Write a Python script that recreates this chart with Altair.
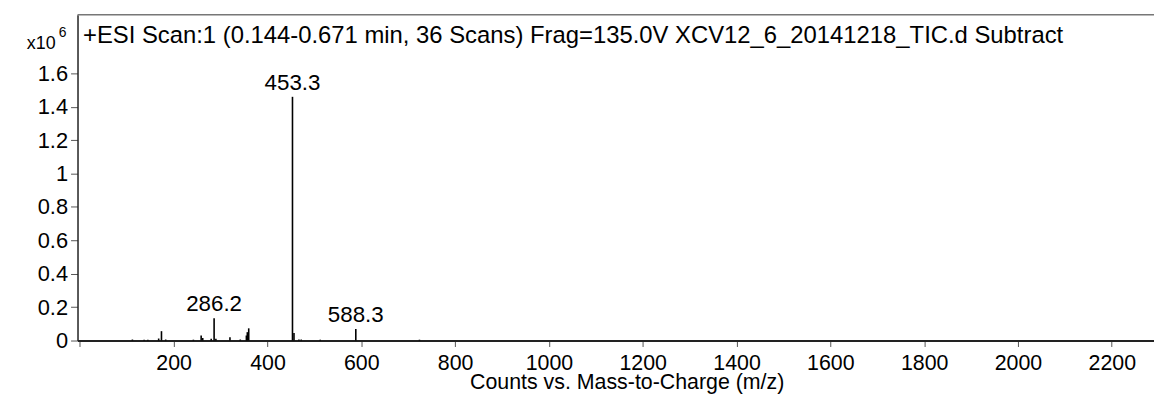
import altair as alt
import pandas as pd

FONT = "Liberation Sans"

# peak list (m/z, intensity in units of 10^6 counts)
mz = [112, 137, 145, 168, 174, 183, 242, 258.6, 262, 280, 286.2, 290, 320, 342,
      355, 357, 360, 453.3, 456.5, 467, 472, 512.5, 588.3, 724]
intensity = [0.006, 0.005, 0.005, 0.012, 0.056, 0.006, 0.005, 0.03, 0.015, 0.01,
             0.133, 0.01, 0.02, 0.006, 0.03, 0.05, 0.073, 1.459, 0.045, 0.006,
             0.006, 0.005, 0.069, 0.005]

label_mz = [286.2, 453.3, 588.3]
label_int = [0.133, 1.459, 0.069]
label_text = ["286.2", "453.3", "588.3"]

x_ticks = [0, 200, 400, 600, 800, 1000, 1200, 1400, 1600, 1800, 2000, 2200]
y_ticks = [0, 0.2, 0.4, 0.6, 0.8, 1.0, 1.2, 1.4, 1.6]

title_text = "+ESI Scan:1 (0.144-0.671 min, 36 Scans) Frag=135.0V XCV12_6_20141218_TIC.d  Subtract"

W, H = 1084, 328

peaks = pd.DataFrame({"mz": mz, "intensity": intensity})
labels = pd.DataFrame({"mz": label_mz, "intensity": label_int, "label": label_text})

xscale = alt.Scale(domain=[-5, 2290], nice=False, zero=False)
yscale = alt.Scale(domain=[0, 1.95], nice=False)

xaxis = alt.Axis(values=x_ticks, format="d",
                 labelExpr="datum.value == 0 ? '' : datum.label",
                 title="Counts vs. Mass-to-Charge (m/z)",
                 titleX=553, titleY=48, titleBaseline="alphabetic", titleAlign="center",
                 titleFontSize=21.5, titleFontWeight="normal", titleFont=FONT, titleColor="black",
                 labelFontSize=21.5, labelFont=FONT, labelColor="black", labelPadding=6,
                 tickSize=6, tickColor="#555", domainColor="#222", domainWidth=2,
                 grid=False, labelFlush=False, labelOverlap=False)
yaxis = alt.Axis(values=y_ticks, format="~g", title=None,
                 labelFontSize=22, labelFont=FONT, labelColor="black", labelPadding=3,
                 tickSize=7, tickColor="#555", domainColor="#222", domainWidth=1.5,
                 grid=False, labelOverlap=False)

bars = alt.Chart(peaks).mark_rule(color="black", strokeWidth=1.6).encode(
    x=alt.X("mz:Q", scale=xscale, axis=xaxis),
    y=alt.Y("intensity:Q", scale=yscale, axis=yaxis),
    y2=alt.datum(0),
)

text = alt.Chart(labels).mark_text(
    baseline="alphabetic", align="center", dy=-7, fontSize=22.5, font=FONT, color="black"
).encode(
    x=alt.X("mz:Q", scale=xscale),
    y=alt.Y("intensity:Q", scale=yscale),
    text="label:N",
)

title = alt.Chart(pd.DataFrame({"t": [title_text]})).mark_text(
    align="left", baseline="alphabetic", fontSize=24, font=FONT, color="black"
).encode(x=alt.value(5.5), y=alt.value(28), text="t:N")

exp_main = alt.Chart(pd.DataFrame({"t": ["x10"]})).mark_text(
    align="right", baseline="alphabetic", fontSize=18, font=FONT, color="black"
).encode(x=alt.value(-22), y=alt.value(34.5), text="t:N")

exp_sup = alt.Chart(pd.DataFrame({"t": ["6"]})).mark_text(
    align="left", baseline="alphabetic", fontSize=14, font=FONT, color="black"
).encode(x=alt.value(-19), y=alt.value(22.5), text="t:N")

top = alt.Chart(pd.DataFrame({"a": [0]})).mark_rule(color="#777", strokeWidth=1.5).encode(
    x=alt.value(0), x2=alt.value(W), y=alt.value(0)
)

chart = alt.layer(top, bars, text, title, exp_main, exp_sup).properties(
    width=W, height=H,
    autosize=alt.AutoSizeParams(type="none"),
    padding={"left": 70, "top": 5.5, "right": 0, "bottom": 52},
).configure_view(stroke=None)

chart.save("out.html", embed_options={"renderer": "svg", "actions": False})
